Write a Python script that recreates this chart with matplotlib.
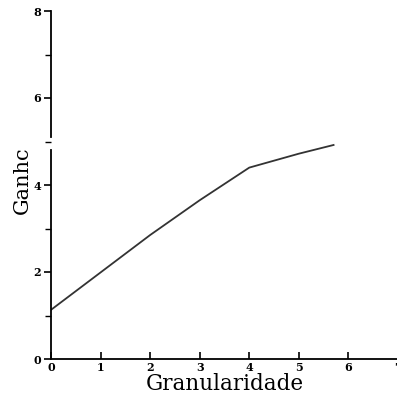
import matplotlib
matplotlib.use("Agg")
import matplotlib.pyplot as plt

# Data
granularidade = [0.0, 1.0, 2.0, 3.0, 4.0, 5.0, 5.7]
ganho = [1.13, 1.99, 2.85, 3.65, 4.40, 4.72, 4.92]
x_ticks = [0, 1, 2, 3, 4, 5, 6, 7]
y_ticks = [0, 2, 4, 6, 8]
y_minor = [1, 3, 5, 7]

fig = plt.figure(figsize=(3.97, 4.01), dpi=100)
ax = fig.add_axes([51/397, 42/401, 347/397, 348/401])

ax.plot(granularidade, ganho, color="#333333", lw=1.3)

ax.set_xlim(0, 7)
ax.set_ylim(0, 8)
ax.set_xticks(x_ticks)
ax.set_yticks(y_ticks)
ax.set_yticks(y_minor, minor=True)
ax.tick_params(axis="x", direction="in", length=5, width=1.2, pad=2,
               labelsize=8)
ax.tick_params(axis="y", which="major", direction="out", length=5, width=1.2,
               pad=2, labelsize=8)
ax.tick_params(axis="y", which="minor", direction="out", length=4, width=1.0)
for lab in ax.get_xticklabels() + ax.get_yticklabels():
    lab.set_fontweight("bold")
    lab.set_family("DejaVu Serif")

for s in ["top", "right"]:
    ax.spines[s].set_visible(False)
ax.spines["left"].set_linewidth(1.3)
ax.spines["bottom"].set_linewidth(1.3)
# small break in the vertical axis as in the scan
ax.spines["left"].set_bounds(0, 4.8)
ax.plot([0, 0], [5.1, 8], color="black", lw=1.3, clip_on=False)

ax.set_xlabel("Granularidade", family="DejaVu Serif", fontsize=15.5, labelpad=0)
ax.set_ylabel("Ganhc", family="DejaVu Serif", fontsize=15, labelpad=6)
ax.yaxis.set_label_coords(-0.055, 0.515)

fig.savefig("out.png", dpi=100, facecolor="white")
